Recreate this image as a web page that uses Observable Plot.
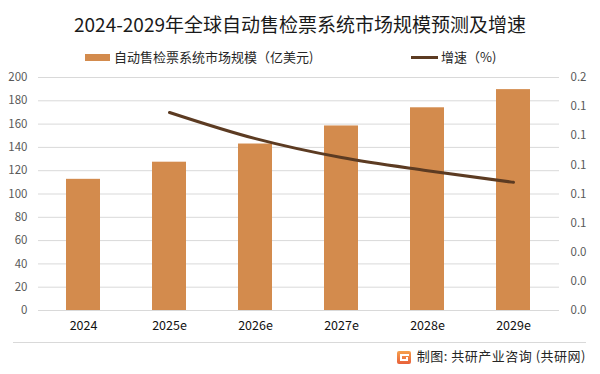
<!DOCTYPE html>
<html><head><meta charset="utf-8">
<script src="https://cdn.jsdelivr.net/npm/d3@7"></script>
<script src="https://cdn.jsdelivr.net/npm/@observablehq/plot@0.6"></script>
<style>
body{margin:0;background:#fff;}
#wrap{position:relative;width:600px;height:374px;overflow:hidden;font-family:"Noto Sans CJK SC","Noto Sans",sans-serif;background:#fff;}
#chart{position:absolute;left:0;top:0;}
.title{position:absolute;left:0;width:600px;top:11px;text-align:center;font-size:19px;line-height:26px;color:#1a1a1a;white-space:nowrap;}
.lg{position:absolute;font-size:13px;line-height:18px;color:#262626;white-space:nowrap;}
.sw{position:absolute;}
.sep{position:absolute;left:13px;width:573px;top:342px;height:1px;background:#d9d9d9;}
.cap{position:absolute;right:14px;top:347px;font-size:13px;line-height:18px;color:#262626;white-space:nowrap;letter-spacing:0.5px;}
.logo{position:absolute;left:397px;top:351px;}
</style></head>
<body>
<div id="wrap">
  <div id="chart"></div>
  <div class="title" id="title"></div>
  <div class="sw" style="left:85px;top:54px;width:25px;height:7px;background:#D38B4D"></div>
  <div class="lg" id="lg1" style="left:114px;top:48px;"></div>
  <div class="sw" style="left:411px;top:56px;width:27px;height:3px;background:#5C3B22"></div>
  <div class="lg" id="lg2" style="left:441px;top:48px;"></div>
  <div class="sep"></div>
  <svg class="logo" width="14" height="13" viewBox="0 0 14 13">
    <defs><linearGradient id="lgr" x1="0" y1="0" x2="0" y2="1"><stop offset="0" stop-color="#F6A04D"/><stop offset="1" stop-color="#E8603A"/></linearGradient></defs>
    <rect x="0" y="0" width="14" height="13" rx="2" fill="url(#lgr)"/>
    <rect x="3" y="3" width="9" height="2" fill="#fff"/>
    <rect x="3" y="3" width="2" height="7" fill="#fff"/>
    <rect x="3" y="8" width="8" height="2" fill="#fff"/>
    <rect x="9" y="6" width="2" height="4" fill="#fff"/>
  </svg>
  <div class="cap" id="cap"></div>
</div>
<script>
const titleText = "2024-2029年全球自动售检票系统市场规模预测及增速";
const legendSize = "自动售检票系统市场规模（亿美元)";
const legendGrowth = "增速（%)";
const captionText = "制图: 共研产业咨询 (共研网)";

const years = ["2024", "2025e", "2026e", "2027e", "2028e", "2029e"];
const marketSize = [112.6, 127.3, 142.9, 158.4, 174.0, 189.6];
const growthYears = ["2025e", "2026e", "2027e", "2028e", "2029e"];
const growthRate = [0.136, 0.118, 0.105, 0.096, 0.088];
const leftTicks = [0, 20, 40, 60, 80, 100, 120, 140, 160, 180, 200];
const rightTicks = [0, 0.02, 0.04, 0.06, 0.08, 0.10, 0.12, 0.14, 0.16];

document.getElementById("title").textContent = titleText;
document.getElementById("lg1").textContent = legendSize;
document.getElementById("lg2").textContent = legendGrowth;
document.getElementById("cap").textContent = captionText;

const leftMax = 200, rightMax = 0.16, k = leftMax / rightMax;
const bars = years.map((y, i) => ({year: y, value: marketSize[i]}));
const growth = growthYears.map((y, i) => ({year: y, rate: growthRate[i]}));

const chart = Plot.plot({
  width: 600,
  height: 374,
  marginTop: 77,
  marginBottom: 64,
  marginLeft: 38,
  marginRight: 41,
  style: {fontFamily: '"Noto Sans CJK SC","Noto Sans",sans-serif', background: "transparent"},
  x: {type: "band", domain: years, paddingInner: 0.6, paddingOuter: 0.3},
  y: {domain: [0, leftMax]},
  marks: [
    Plot.gridY(leftTicks, {stroke: "#d9d9d9", strokeOpacity: 1}),
    Plot.barY(bars, {x: "year", y: "value", fill: "#D38B4D"}),
    Plot.lineY(growth, {x: "year", y: d => d.rate * k, stroke: "#5C3B22", strokeWidth: 3, curve: "monotone-x"}),
    Plot.axisY({anchor: "left", ticks: leftTicks, tickSize: 0, tickPadding: 11, label: null, fill: "#595959", fontSize: 11.5}),
    Plot.axisY({anchor: "right", ticks: rightTicks.map(v => v * k), tickFormat: d => (d / k).toFixed(1), tickSize: 0, tickPadding: 11, label: null, fill: "#595959", fontSize: 11.5}),
    Plot.axisX({tickSize: 0, tickPadding: 11, label: null, fill: "#111", fontSize: 12.5})
  ]
});
document.getElementById("chart").appendChild(chart);
</script>
</body></html>
